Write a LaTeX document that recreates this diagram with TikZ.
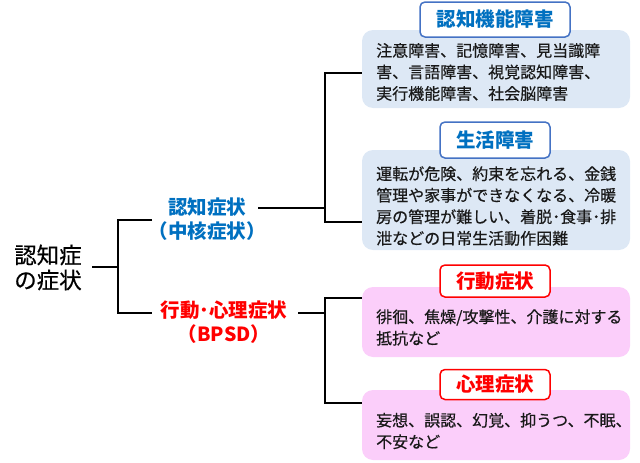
\documentclass[tikz,border=0pt]{standalone}
\usepackage{fontspec}
\newfontfamily\jp{Noto Sans CJK JP}
\newfontfamily\jpm[FakeBold=0.5]{Noto Sans CJK JP}
\definecolor{myblue}{RGB}{0,112,192}
\definecolor{bluebd}{RGB}{68,114,196}
\definecolor{bluefill}{RGB}{221,232,245}
\definecolor{myred}{RGB}{255,0,0}
\definecolor{pinkfill}{RGB}{251,206,250}
\begin{document}
\begin{tikzpicture}[x=1pt,y=-1pt,
  conn/.style={line width=1.8pt,black},
  bodybox/.style={rounded corners=11pt,minimum width=268pt,inner sep=0pt},
  titlebox/.style={draw,fill=white,rounded corners=5pt,line width=1.5pt,inner sep=0pt,font=\jp\bfseries\fontsize{19.5}{22}\selectfont},
  bodytext/.style={anchor=west,align=left,inner sep=0pt,font=\jpm\fontsize{16}{21.5}\selectfont,text=black!90},
  branch/.style={align=center,inner sep=0pt,font=\jp\bfseries\fontsize{19.5}{24}\selectfont}]
\useasboundingbox (0,0) rectangle (640,463);
% root and branches
\node[align=center,inner sep=0pt,font=\jpm\fontsize{22.5}{25}\selectfont] (root) at (48,267.5) {認知症\\の症状};
\node[branch,text=myblue] (cog) at (207,219) {認知症状\\（中核症状）};
\node[branch,text=myred] (bpsd) at (224,322) {行動･心理症状\\（BPSD）};
% boxes
\node[bodybox,fill=bluefill,minimum height=78pt] (b1) at (496,69) {};
\node[bodybox,fill=bluefill,minimum height=100pt] (b2) at (496,200) {};
\node[bodybox,fill=pinkfill,minimum height=70pt] (b3) at (496,322) {};
\node[bodybox,fill=pinkfill,minimum height=70pt] (b4) at (496,425) {};
\node[titlebox,draw=bluebd,text=myblue,minimum width=150pt,minimum height=35pt] (t1) at (495,19.5) {認知機能障害};
\node[titlebox,draw=bluebd,text=myblue,minimum width=110pt,minimum height=36pt] (t2) at (495,140) {生活障害};
\node[titlebox,draw=myred,text=myred,minimum width=110pt,minimum height=32pt] (t3) at (495,281) {行動症状};
\node[titlebox,draw=myred,text=myred,minimum width=110pt,minimum height=30pt] (t4) at (495,384.5) {心理症状};
\node[bodytext] (x1) at (376,72) {注意障害、記憶障害、見当識障\\害、言語障害、視覚認知障害、\\実行機能障害、社会脳障害};
\node[bodytext] (x2) at (376,206) {運転が危険、約束を忘れる、金銭\\管理や家事ができなくなる、冷暖\\房の管理が難しい、着脱･食事･排\\泄などの日常生活動作困難};
\node[bodytext] (x3) at (376,327.5) {徘徊、焦燥/攻撃性、介護に対する\\抵抗など};
\node[bodytext] (x4) at (376,431) {妄想、誤認、幻覚、抑うつ、不眠、\\不安など};
% junction coordinates
\coordinate (r0) at (92,267);
\coordinate (j0) at (118,267);
\coordinate (ja) at (118,220);
\coordinate (jb) at (118,313);
\coordinate (ca) at (152,220);
\coordinate (cb) at (152,313);
\coordinate (c1) at (258,208);
\coordinate (k1) at (325,208);
\coordinate (k1a) at (325,73);
\coordinate (k1b) at (325,222);
\coordinate (e1) at (b1.west |- k1a);
\coordinate (e2) at (b2.west |- k1b);
\coordinate (c2) at (298,313);
\coordinate (k2) at (325,313);
\coordinate (k2a) at (325,298);
\coordinate (k2b) at (325,403);
\coordinate (e3) at (b3.west |- k2a);
\coordinate (e4) at (b4.west |- k2b);
\draw[conn] (r0) -- (j0);
\draw[conn] (ca) -- (ja) -- (jb) -- (cb);
\draw[conn] (c1) -- (k1);
\draw[conn] (e1) -- (k1a) -- (k1b) -- (e2);
\draw[conn] (c2) -- (k2);
\draw[conn] (e3) -- (k2a) -- (k2b) -- (e4);
\end{tikzpicture}
\end{document}
